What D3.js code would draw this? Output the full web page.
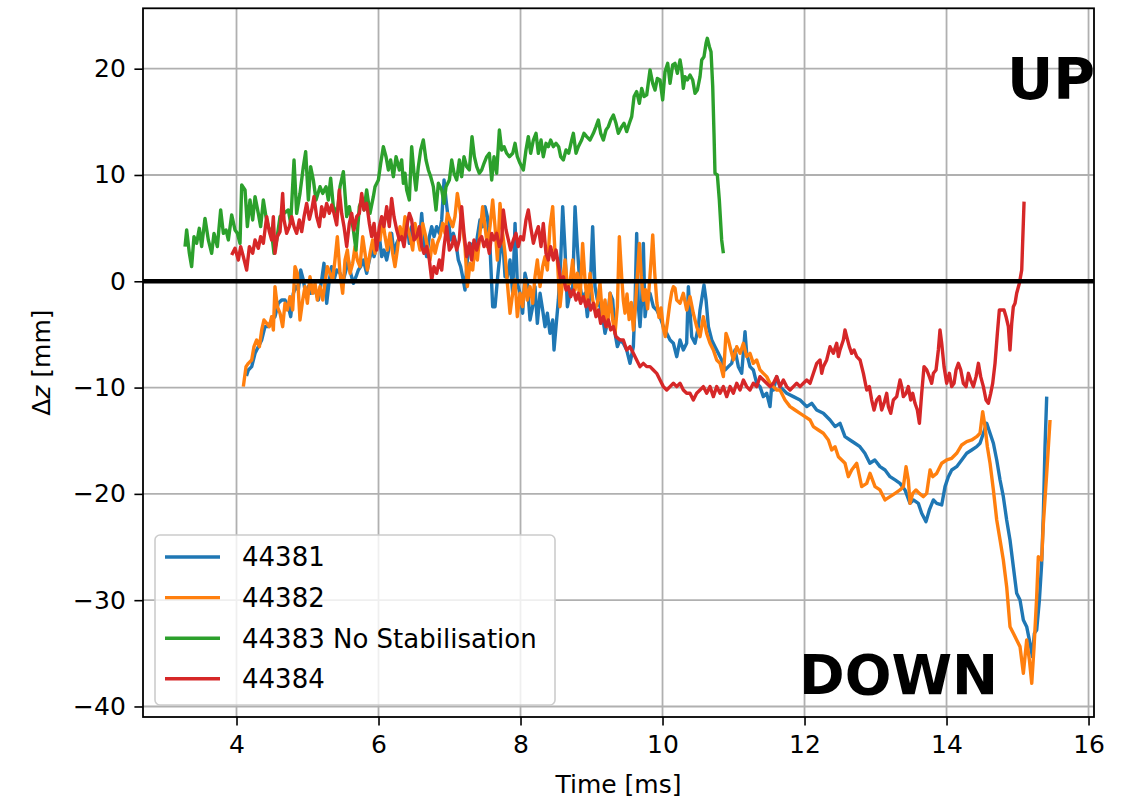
<!DOCTYPE html>
<html>
<head>
<meta charset="utf-8">
<script src="https://cdn.jsdelivr.net/npm/d3@7"></script>
<style>
  body { margin: 0; background: #ffffff; }
  svg { display: block; }
  text { font-family: "DejaVu Sans", sans-serif; fill: #000; }
</style>
</head>
<body>
<svg id="chart" width="1132" height="803"></svg>
<script>
// Vertical displacement of the plasma column, Δz [mm], against time [ms]
const shotLabels = ["44381", "44382", "44383 No Stabilisation", "44384"];
const shotColors = ["#1f77b4", "#ff7f0e", "#2ca02c", "#d62728"];
const xTickValues = [4, 6, 8, 10, 12, 14, 16];
const yTickValues = [20, 10, 0, -10, -20, -30, -40];

// [time ms, dz mm]
const shot44381 = [
  [4.14,-8.9],[4.167,-8.35],[4.214,-8.03],[4.261,-6.78],[4.307,-6.15],[4.355,-5.52],[4.401,-4.27],[4.448,-4.27],
  [4.495,-3.64],[4.542,-3.33],[4.589,-2.07],[4.636,-1.76],[4.683,-1.76],[4.730,-2.39],[4.763,-3.33],[4.800,-1.13],
  [4.838,-0.50],[4.871,-0.82],[4.904,1.06],[4.941,0.12],[4.979,-1.45],[5.012,-0.50],[5.044,-1.13],[5.082,-0.50],
  [5.120,-1.13],[5.153,-1.76],[5.199,0.12],[5.232,1.69],[5.270,-2.07],[5.307,0.12],[5.340,1.38],[5.373,0.12],
  [5.411,1.06],[5.458,0.75],[5.505,0.12],[5.542,1.06],[5.575,2.00],[5.608,0.75],[5.646,-0.19],[5.683,0.43],
  [5.716,1.06],[5.749,1.38],[5.787,2.00],[5.833,0.75],[5.871,2.00],[5.904,2.94],[5.937,2.32],[5.974,3.26],
  [6.012,4.20],[6.045,2.32],[6.077,2.94],[6.115,2.00],[6.152,3.26],[6.185,4.51],[6.218,2.63],[6.256,3.57],
  [6.303,4.20],[6.350,4.20],[6.397,5.77],[6.434,3.57],[6.467,5.14],[6.500,3.89],[6.538,4.83],[6.575,3.57],
  [6.608,6.39],[6.641,3.57],[6.678,2.32],[6.716,4.20],[6.749,5.14],[6.782,4.20],[6.819,5.14],[6.857,4.51],
  [6.890,5.77],[6.923,9.53],[6.951,7.65],[6.984,5.77],[7.016,3.89],[7.054,4.51],[7.091,3.57],[7.124,2.00],
  [7.157,1.38],[7.185,0.43],[7.218,-0.82],[7.251,2.00],[7.289,3.57],[7.326,3.26],[7.359,2.63],[7.392,4.20],
  [7.429,5.77],[7.467,5.14],[7.500,7.02],[7.533,6.08],[7.570,3.26],[7.608,-2.39],[7.641,-2.39],[7.674,0.12],
  [7.711,2.63],[7.749,3.89],[7.782,0.43],[7.815,0.43],[7.852,2.00],[7.890,-1.13],[7.923,5.45],[7.955,-0.19],
  [7.993,-1.13],[8.030,-3.01],[8.063,0.75],[8.096,-0.19],[8.134,-3.64],[8.171,-2.39],[8.204,-0.50],[8.237,-3.96],
  [8.275,-1.13],[8.312,-2.70],[8.345,-4.27],[8.378,-3.01],[8.415,-4.90],[8.453,-3.64],[8.472,-6.46],[8.500,-4.27],
  [8.533,-1.76],[8.566,2.00],[8.594,7.02],[8.627,2.94],[8.660,-2.39],[8.697,-1.13],[8.735,-0.50],[8.768,7.02],
  [8.800,3.26],[8.838,-0.50],[8.875,-1.76],[8.908,-1.13],[8.941,-3.33],[8.979,-1.13],[9.016,5.14],[9.049,-0.50],
  [9.082,-1.76],[9.120,-2.39],[9.157,-3.33],[9.190,-4.90],[9.223,-3.96],[9.261,-1.13],[9.298,-1.76],[9.331,-4.90],
  [9.364,-6.15],[9.401,-5.52],[9.448,-5.83],[9.495,-6.46],[9.542,-7.72],[9.589,-6.15],[9.613,-2.07],[9.636,4.51],
  [9.660,-2.39],[9.683,-4.27],[9.707,-1.76],[9.730,3.57],[9.754,-3.33],[9.777,-2.07],[9.824,-1.13],[9.871,-2.39],
  [9.918,-2.70],[9.965,-3.33],[10.012,-4.27],[10.059,-4.89],[10.106,-5.52],[10.153,-5.83],[10.200,-7.09],[10.247,-5.52],
  [10.293,-6.46],[10.340,-5.83],[10.364,-0.51],[10.411,-5.21],[10.458,-5.83],[10.505,-4.27],[10.528,-2.70],[10.584,-0.35],
  [10.613,-1.76],[10.646,-4.27],[10.693,-5.52],[10.739,-6.15],[10.786,-6.78],[10.833,-7.40],[10.880,-8.34],[10.927,-8.03],
  [10.974,-7.72],[11.021,-6.46],[11.068,-8.03],[11.115,-8.66],[11.162,-4.74],[11.185,-6.78],[11.232,-8.03],[11.279,-8.34],
  [11.326,-9.60],[11.373,-9.91],[11.420,-10.85],[11.467,-10.54],[11.514,-11.79],[11.537,-9.91],[11.561,-10.23],[11.608,-8.97],
  [11.655,-9.91],[11.749,-10.54],[11.843,-10.85],[11.937,-11.17],[12.031,-11.79],[12.101,-11.48],[12.171,-12.11],[12.265,-12.42],
  [12.359,-13.05],[12.430,-13.67],[12.500,-13.36],[12.570,-14.62],[12.640,-14.93],[12.710,-15.24],[12.780,-15.56],[12.850,-16.18],
  [12.920,-17.12],[12.990,-16.81],[13.063,-17.44],[13.134,-17.75],[13.204,-18.38],[13.275,-18.69],[13.345,-19.01],[13.415,-19.63],
  [13.486,-20.89],[13.533,-20.57],[13.603,-20.89],[13.650,-21.83],[13.711,-22.61],[13.758,-21.51],[13.815,-20.57],[13.862,-20.89],
  [13.932,-21.04],[13.979,-19.32],[14.026,-18.38],[14.073,-17.75],[14.143,-17.44],[14.214,-16.81],[14.284,-16.18],[14.355,-15.87],
  [14.425,-15.56],[14.472,-15.24],[14.519,-14.30],[14.566,-13.36],[14.613,-14.30],[14.660,-15.24],[14.707,-16.81],[14.754,-18.69],
  [14.800,-20.26],[14.847,-22.46],[14.894,-24.34],[14.941,-26.85],[14.988,-29.35],[15.035,-29.98],[15.082,-31.86],[15.129,-32.49],
  [15.176,-34.06],[15.209,-35.31],[15.237,-33.12],[15.270,-32.80],[15.308,-29.98],[15.340,-26.53],[15.364,-21.83],[15.387,-15.56],
  [15.411,-10.85]
];

const shot44382 = [
  [4.096,-9.91],[4.134,-8.03],[4.167,-7.72],[4.214,-7.40],[4.246,-6.15],[4.284,-5.52],[4.322,-6.15],[4.355,-4.58],
  [4.387,-3.64],[4.425,-3.96],[4.462,-4.27],[4.495,-3.33],[4.519,-4.58],[4.542,-0.50],[4.575,-2.39],[4.613,-3.01],
  [4.650,-4.27],[4.683,-2.07],[4.716,-2.70],[4.753,-1.45],[4.791,-2.70],[4.824,1.38],[4.857,0.75],[4.894,-3.64],
  [4.932,-1.76],[4.965,-0.50],[4.998,-2.07],[5.035,0.43],[5.073,-1.13],[5.106,-0.19],[5.138,-1.76],[5.176,-0.50],
  [5.214,-1.76],[5.246,-0.19],[5.279,1.38],[5.317,0.75],[5.354,0.12],[5.387,2.00],[5.420,4.20],[5.458,0.75],
  [5.495,-1.13],[5.528,2.00],[5.561,2.94],[5.599,0.75],[5.636,1.69],[5.669,3.26],[5.702,2.00],[5.739,1.38],
  [5.777,4.20],[5.810,2.63],[5.843,1.06],[5.880,2.63],[5.918,3.89],[5.951,2.63],[5.984,4.51],[6.021,3.89],
  [6.059,5.77],[6.092,4.20],[6.124,2.94],[6.162,4.51],[6.199,2.63],[6.232,1.38],[6.265,2.94],[6.303,5.14],
  [6.340,3.89],[6.373,6.08],[6.406,5.14],[6.444,4.20],[6.481,2.94],[6.514,5.45],[6.547,4.20],[6.584,2.94],
  [6.622,5.45],[6.655,4.51],[6.688,3.26],[6.725,2.00],[6.763,3.89],[6.796,2.63],[6.829,3.57],[6.866,4.20],
  [6.904,5.45],[6.937,4.51],[6.970,6.39],[7.007,5.77],[7.045,5.14],[7.077,6.08],[7.110,8.27],[7.148,6.71],
  [7.185,5.14],[7.218,3.26],[7.251,-0.50],[7.289,1.69],[7.326,1.06],[7.359,3.26],[7.392,2.00],[7.429,4.51],
  [7.467,7.02],[7.500,5.14],[7.533,3.26],[7.570,5.14],[7.608,7.65],[7.641,5.14],[7.674,2.00],[7.711,7.33],
  [7.749,4.51],[7.782,2.63],[7.815,-0.19],[7.852,-3.01],[7.890,-1.13],[7.923,0.12],[7.955,-3.33],[7.993,-1.13],
  [8.030,-2.39],[8.063,0.12],[8.096,-1.76],[8.134,-0.50],[8.171,-2.07],[8.204,0.43],[8.237,2.00],[8.275,-0.50],
  [8.312,1.38],[8.345,2.32],[8.378,1.06],[8.415,5.14],[8.453,7.02],[8.486,2.63],[8.519,2.00],[8.556,-2.39],
  [8.594,0.12],[8.627,2.00],[8.660,-0.50],[8.697,-0.19],[8.735,2.00],[8.768,-0.82],[8.800,0.75],[8.838,-1.76],
  [8.875,3.57],[8.908,0.12],[8.941,-2.07],[8.979,0.75],[9.016,-1.76],[9.049,-2.70],[9.082,-2.07],[9.120,-0.19],
  [9.157,-3.64],[9.190,-1.76],[9.223,-4.27],[9.261,-1.13],[9.298,-3.64],[9.331,-4.90],[9.364,-2.39],[9.392,4.20],
  [9.425,0.40],[9.448,-1.80],[9.472,-3.00],[9.500,-1.20],[9.530,-3.60],[9.560,-2.00],[9.590,-4.60],[9.620,-2.20],
  [9.650,1.00],[9.674,3.57],[9.700,0.50],[9.730,-1.80],[9.760,-0.80],[9.790,-2.60],[9.820,0.20],[9.845,2.50],
  [9.862,4.36],[9.890,0.80],[9.920,-2.00],[9.950,-3.40],[9.980,-2.50],[10.010,-4.40],[10.040,-5.20],[10.070,-3.80],
  [10.100,-2.20],[10.130,-1.00],[10.153,-0.51],[10.176,-0.66],[10.200,-1.76],[10.247,-2.07],[10.293,-1.13],[10.340,-2.70],
  [10.387,-1.45],[10.434,-3.01],[10.481,-4.27],[10.528,-5.21],[10.575,-3.33],[10.622,-4.90],[10.669,-5.83],[10.716,-6.46],
  [10.763,-7.40],[10.810,-7.72],[10.857,-8.97],[10.894,-4.90],[10.927,-5.52],[10.974,-6.78],[10.998,-7.40],[11.045,-6.15],
  [11.092,-6.78],[11.139,-5.83],[11.185,-7.09],[11.232,-6.78],[11.279,-7.72],[11.326,-7.40],[11.373,-8.34],[11.420,-8.66],
  [11.467,-8.97],[11.514,-9.60],[11.561,-9.91],[11.608,-10.23],[11.655,-10.23],[11.725,-11.17],[11.796,-11.79],[11.866,-12.11],
  [11.937,-12.42],[12.007,-12.73],[12.078,-13.05],[12.124,-13.67],[12.195,-13.99],[12.265,-14.30],[12.336,-14.93],[12.383,-15.87],
  [12.430,-15.56],[12.477,-16.50],[12.524,-16.81],[12.570,-17.12],[12.617,-18.38],[12.664,-17.75],[12.735,-17.12],[12.805,-19.32],
  [12.876,-19.01],[12.923,-18.07],[12.993,-19.32],[13.063,-19.63],[13.134,-20.57],[13.204,-20.26],[13.275,-19.95],[13.345,-19.63],
  [13.392,-19.32],[13.430,-17.44],[13.462,-18.69],[13.486,-20.89],[13.524,-19.95],[13.570,-19.63],[13.617,-19.95],[13.674,-20.26],
  [13.721,-19.95],[13.768,-17.75],[13.805,-18.38],[13.862,-18.07],[13.932,-17.12],[14.002,-16.81],[14.073,-16.65],[14.143,-16.18],
  [14.214,-15.40],[14.284,-15.09],[14.355,-14.93],[14.425,-14.62],[14.472,-14.30],[14.509,-12.26],[14.542,-13.67],[14.575,-15.56],
  [14.613,-17.12],[14.660,-19.63],[14.707,-22.46],[14.754,-24.34],[14.800,-26.22],[14.847,-28.73],[14.894,-32.49],[14.941,-33.12],
  [14.988,-33.74],[15.035,-34.37],[15.082,-36.88],[15.129,-33.74],[15.167,-35.62],[15.200,-37.82],[15.233,-34.37],[15.270,-29.67],
  [15.293,-25.90],[15.340,-26.22],[15.364,-22.77],[15.411,-18.07],[15.458,-13.05]
];

const shot44383 = [
  [3.275,3.26],[3.298,4.83],[3.336,2.63],[3.368,1.38],[3.401,4.20],[3.439,3.57],[3.476,4.98],[3.509,3.26],
  [3.556,5.92],[3.603,3.89],[3.650,2.63],[3.683,4.51],[3.730,3.26],[3.777,6.71],[3.815,4.51],[3.852,4.83],
  [3.885,3.89],[3.932,6.24],[3.979,4.83],[4.012,4.51],[4.049,3.57],[4.073,9.06],[4.120,8.59],[4.153,5.14],
  [4.190,7.65],[4.228,5.77],[4.261,7.96],[4.307,6.39],[4.340,5.14],[4.378,7.65],[4.415,6.08],[4.448,5.14],
  [4.495,4.51],[4.528,2.63],[4.566,3.89],[4.613,6.08],[4.669,6.39],[4.730,6.71],[4.763,5.45],[4.810,11.41],
  [4.847,6.39],[4.894,8.27],[4.941,10.78],[4.974,12.19],[5.012,7.65],[5.044,10.78],[5.082,9.53],[5.120,7.65],
  [5.176,8.90],[5.214,8.27],[5.261,8.90],[5.293,7.65],[5.326,9.69],[5.364,7.02],[5.420,6.39],[5.458,8.90],
  [5.505,10.31],[5.552,6.08],[5.589,7.02],[5.646,4.83],[5.683,2.94],[5.730,7.02],[5.763,7.65],[5.796,6.71],
  [5.833,8.59],[5.880,6.39],[5.927,7.96],[5.951,8.90],[5.998,9.53],[6.031,11.10],[6.068,12.66],[6.106,11.72],
  [6.139,10.47],[6.171,11.41],[6.209,9.84],[6.247,11.72],[6.294,10.47],[6.326,11.41],[6.350,9.22],[6.373,10.16],
  [6.397,8.59],[6.434,7.65],[6.467,12.66],[6.500,10.16],[6.528,8.59],[6.561,10.78],[6.594,12.35],[6.631,13.29],
  [6.669,11.41],[6.702,10.47],[6.735,9.84],[6.772,8.90],[6.810,6.71],[6.843,9.22],[6.890,8.59],[6.923,7.33],
  [6.951,8.90],[6.998,9.53],[7.031,11.41],[7.064,10.16],[7.101,9.53],[7.139,11.41],[7.171,9.84],[7.204,11.72],
  [7.242,10.78],[7.279,10.47],[7.317,13.61],[7.350,11.72],[7.383,10.78],[7.420,10.16],[7.453,10.47],[7.486,11.10],
  [7.524,11.72],[7.561,12.04],[7.594,9.53],[7.627,11.72],[7.664,10.16],[7.702,14.23],[7.735,12.35],[7.768,12.66],
  [7.805,12.04],[7.843,11.72],[7.890,12.04],[7.923,12.98],[7.955,11.72],[7.993,11.10],[8.040,10.47],[8.077,12.35],
  [8.110,13.61],[8.143,12.04],[8.181,13.29],[8.218,13.92],[8.251,12.04],[8.289,13.29],[8.321,11.72],[8.359,12.98],
  [8.392,12.66],[8.425,13.29],[8.462,12.66],[8.500,12.98],[8.537,12.66],[8.566,11.72],[8.603,11.41],[8.641,12.35],
  [8.678,12.04],[8.721,13.29],[8.744,13.92],[8.782,12.04],[8.814,12.66],[8.861,13.29],[8.894,13.92],[8.932,13.61],
  [8.979,13.29],[9.026,13.92],[9.063,14.55],[9.096,15.17],[9.129,13.92],[9.167,13.29],[9.204,14.23],[9.237,14.55],
  [9.270,15.17],[9.308,15.64],[9.345,14.86],[9.378,13.92],[9.425,14.55],[9.458,14.86],[9.495,14.08],[9.533,14.86],
  [9.566,15.49],[9.599,17.37],[9.636,17.84],[9.674,16.74],[9.707,18.15],[9.740,17.37],[9.777,17.53],[9.824,19.88],
  [9.862,18.62],[9.894,17.99],[9.927,19.09],[9.965,18.94],[10.002,17.06],[10.035,19.72],[10.073,20.50],[10.106,18.62],
  [10.143,20.35],[10.176,20.50],[10.209,19.56],[10.247,20.82],[10.270,19.88],[10.293,18.15],[10.317,19.25],[10.350,18.94],
  [10.387,19.41],[10.425,18.94],[10.458,17.68],[10.491,17.99],[10.528,19.25],[10.552,20.82],[10.584,21.13],[10.613,22.39],
  [10.631,22.86],[10.660,22.07],[10.683,21.60],[10.707,18.31],[10.725,13.92],[10.739,10.16],[10.772,10.00],[10.800,7.65],
  [10.833,3.89],[10.857,2.63]
];

const shot44384 = [
  [3.932,2.47],[3.979,3.10],[4.026,2.00],[4.059,3.26],[4.096,2.32],[4.143,1.06],[4.181,3.26],[4.228,2.63],
  [4.261,3.89],[4.307,3.10],[4.340,4.20],[4.378,3.57],[4.425,6.08],[4.462,4.67],[4.495,3.89],[4.519,6.08],
  [4.542,2.63],[4.575,4.20],[4.613,4.67],[4.650,8.27],[4.669,5.77],[4.706,4.51],[4.744,5.14],[4.777,6.08],
  [4.810,5.14],[4.847,4.51],[4.885,5.77],[4.918,4.67],[4.951,6.08],[4.988,7.33],[5.026,5.83],[5.059,6.71],
  [5.091,7.96],[5.129,6.08],[5.167,5.14],[5.199,7.02],[5.232,6.08],[5.270,7.33],[5.307,6.39],[5.340,7.18],
  [5.373,6.39],[5.411,5.30],[5.448,8.59],[5.481,6.39],[5.514,5.14],[5.552,3.26],[5.589,5.45],[5.622,6.39],
  [5.655,4.83],[5.692,6.08],[5.730,6.39],[5.763,8.27],[5.796,6.71],[5.833,7.33],[5.871,5.45],[5.904,4.20],
  [5.937,5.45],[5.974,2.94],[6.012,5.14],[6.045,6.08],[6.077,5.14],[6.115,7.02],[6.152,5.14],[6.185,7.80],
  [6.218,6.08],[6.256,4.83],[6.293,3.89],[6.326,4.20],[6.359,3.26],[6.397,5.14],[6.434,6.39],[6.467,5.77],
  [6.500,3.89],[6.538,4.20],[6.575,5.14],[6.608,3.26],[6.641,2.63],[6.678,3.26],[6.716,2.00],[6.749,0.12],
  [6.781,1.38],[6.819,0.75],[6.857,2.00],[6.890,1.06],[6.923,3.26],[6.960,5.14],[6.998,2.94],[7.031,3.26],
  [7.063,4.20],[7.101,2.94],[7.138,3.89],[7.171,7.02],[7.204,4.51],[7.242,2.32],[7.279,3.57],[7.312,2.00],
  [7.345,3.89],[7.383,2.94],[7.420,3.89],[7.453,4.20],[7.486,3.26],[7.524,3.89],[7.561,2.63],[7.594,4.51],
  [7.627,3.89],[7.664,4.51],[7.702,3.26],[7.735,3.89],[7.758,6.71],[7.796,4.83],[7.829,3.89],[7.861,2.94],
  [7.899,3.89],[7.936,4.51],[7.969,3.26],[8.002,4.20],[8.040,3.89],[8.077,5.77],[8.110,6.71],[8.143,5.14],
  [8.181,3.57],[8.218,4.51],[8.251,5.14],[8.289,3.26],[8.321,5.45],[8.359,2.63],[8.392,2.00],[8.425,3.26],
  [8.462,2.00],[8.500,2.94],[8.537,1.38],[8.566,0.12],[8.603,0.43],[8.641,-0.82],[8.674,-0.51],[8.707,-1.45],
  [8.744,-0.82],[8.782,-1.76],[8.814,-1.13],[8.847,-2.07],[8.885,-1.45],[8.922,-2.39],[8.955,-1.76],[8.988,-2.70],
  [9.026,-2.07],[9.063,-3.33],[9.096,-2.70],[9.129,-3.96],[9.167,-3.33],[9.204,-4.27],[9.237,-3.64],[9.270,-4.58],
  [9.308,-4.27],[9.345,-5.21],[9.401,-5.52],[9.448,-5.52],[9.495,-6.46],[9.542,-6.15],[9.589,-6.78],[9.636,-7.40],
  [9.683,-8.03],[9.730,-7.72],[9.777,-8.03],[9.824,-8.03],[9.871,-8.34],[9.918,-8.66],[9.965,-9.29],[10.012,-9.91],
  [10.059,-10.23],[10.106,-9.91],[10.153,-9.60],[10.200,-9.91],[10.247,-9.60],[10.293,-10.23],[10.340,-10.54],[10.387,-10.54],
  [10.434,-11.17],[10.481,-10.54],[10.528,-10.23],[10.575,-9.91],[10.622,-10.54],[10.669,-9.91],[10.716,-10.85],[10.763,-9.91],
  [10.810,-10.54],[10.857,-9.91],[10.904,-10.85],[10.951,-9.91],[10.998,-10.54],[11.045,-9.60],[11.092,-10.23],[11.139,-9.29],
  [11.185,-9.91],[11.232,-10.23],[11.279,-9.60],[11.326,-9.91],[11.373,-8.97],[11.420,-9.29],[11.467,-9.60],[11.514,-9.91],
  [11.561,-9.60],[11.608,-8.97],[11.655,-9.91],[11.702,-9.29],[11.749,-9.91],[11.796,-10.23],[11.843,-9.91],[11.890,-9.60],
  [11.937,-9.91],[11.984,-9.60],[12.031,-9.29],[12.078,-9.60],[12.125,-8.66],[12.172,-7.72],[12.218,-7.40],[12.242,-8.66],
  [12.265,-8.03],[12.312,-7.40],[12.359,-6.15],[12.406,-6.78],[12.453,-5.83],[12.477,-7.09],[12.500,-6.46],[12.547,-5.52],
  [12.570,-4.58],[12.594,-5.21],[12.631,-6.15],[12.664,-6.78],[12.697,-6.46],[12.735,-7.09],[12.782,-7.40],[12.829,-8.66],
  [12.876,-10.23],[12.913,-9.91],[12.946,-11.17],[12.979,-12.11],[13.016,-11.17],[13.054,-10.85],[13.087,-12.11],[13.120,-11.48],
  [13.157,-10.54],[13.181,-11.79],[13.214,-12.42],[13.251,-11.17],[13.298,-10.85],[13.345,-9.29],[13.369,-9.91],[13.392,-10.85],
  [13.430,-10.54],[13.462,-9.91],[13.495,-11.17],[13.524,-10.54],[13.556,-11.48],[13.589,-12.11],[13.618,-13.36],[13.650,-10.54],
  [13.683,-8.03],[13.721,-8.34],[13.758,-8.97],[13.791,-9.60],[13.815,-8.66],[13.852,-8.34],[13.885,-6.46],[13.908,-4.58],
  [13.932,-5.83],[13.965,-8.03],[14.002,-9.60],[14.040,-8.66],[14.073,-9.91],[14.106,-9.60],[14.134,-8.34],[14.167,-7.72],
  [14.200,-8.34],[14.237,-9.60],[14.275,-9.91],[14.308,-8.66],[14.340,-9.29],[14.378,-9.91],[14.416,-8.97],[14.449,-7.72],
  [14.481,-8.97],[14.519,-9.91],[14.556,-11.17],[14.589,-11.48],[14.622,-10.54],[14.650,-9.60],[14.683,-7.72],[14.716,-4.89],
  [14.744,-2.70],[14.777,-2.70],[14.810,-2.70],[14.838,-3.33],[14.871,-4.27],[14.894,-6.46],[14.918,-3.96],[14.941,-2.39],
  [14.965,-2.07],[14.988,-1.13],[15.026,-0.19],[15.059,1.06],[15.092,7.49]
];

const shotSeries = [shot44381, shot44382, shot44383, shot44384];

// ---- layout ----
const svg = d3.select("#chart");
const plot = { left: 143, right: 1094, top: 8.3, bottom: 717 };
const tickFont = 25;
const legendFont = 26;

const x = d3.scaleLinear().domain([2.683, 16.077]).range([plot.left, plot.right]);
const y = d3.scaleLinear().domain([-40.99, 25.68]).range([plot.bottom, plot.top]);

svg.append("rect").attr("width", 1132).attr("height", 803).attr("fill", "#ffffff");

svg.append("defs").append("clipPath").attr("id", "plot-clip")
  .append("rect")
  .attr("x", plot.left).attr("y", plot.top)
  .attr("width", plot.right - plot.left).attr("height", plot.bottom - plot.top);

// grid
const grid = svg.append("g").attr("stroke", "#b0b0b0").attr("stroke-width", 1.8);
grid.selectAll("line.vx").data(xTickValues).join("line")
  .attr("x1", d => x(d)).attr("x2", d => x(d))
  .attr("y1", plot.top).attr("y2", plot.bottom);
grid.selectAll("line.hy").data(yTickValues).join("line")
  .attr("x1", plot.left).attr("x2", plot.right)
  .attr("y1", d => y(d)).attr("y2", d => y(d));

// series
const line = d3.line().x(d => x(d[0])).y(d => y(d[1]));
const seriesGroup = svg.append("g").attr("clip-path", "url(#plot-clip)");
seriesGroup.selectAll("path.shot").data(shotSeries).join("path")
  .attr("class", "shot")
  .attr("d", line)
  .attr("fill", "none")
  .attr("stroke", (d, i) => shotColors[i])
  .attr("stroke-width", 3.4)
  .attr("stroke-linejoin", "round")
  .attr("stroke-linecap", "butt");

// zero reference line
seriesGroup.append("line")
  .attr("x1", plot.left).attr("x2", plot.right)
  .attr("y1", y(0)).attr("y2", y(0))
  .attr("stroke", "#000").attr("stroke-width", 4.6);

// axes
const xAxis = d3.axisBottom(x).tickValues(xTickValues).tickSize(8.6).tickPadding(8.6)
  .tickFormat(d3.format("d"));
const yAxis = d3.axisLeft(y).tickValues(yTickValues).tickSize(8.6).tickPadding(8.6)
  .tickFormat(d => d < 0 ? "\u2212" + Math.abs(d) : String(d));

const gx = svg.append("g").attr("transform", `translate(0,${plot.bottom})`).call(xAxis);
const gy = svg.append("g").attr("transform", `translate(${plot.left},0)`).call(yAxis);
[gx, gy].forEach(g => {
  g.select(".domain").remove();
  g.selectAll(".tick line").attr("stroke", "#000").attr("stroke-width", 1.6);
  g.selectAll(".tick text").attr("fill", "#000")
    .style("font-family", "'DejaVu Sans', sans-serif").style("font-size", tickFont + "px");
});
gx.selectAll(".tick text").attr("dy", "0.76em");

// frame
svg.append("rect")
  .attr("x", plot.left).attr("y", plot.top)
  .attr("width", plot.right - plot.left).attr("height", plot.bottom - plot.top)
  .attr("fill", "none").attr("stroke", "#000").attr("stroke-width", 1.8);

// axis labels
svg.append("text")
  .attr("x", (plot.left + plot.right) / 2).attr("y", 793)
  .attr("text-anchor", "middle").style("font-size", tickFont + "px")
  .text("Time [ms]");

const yLabel = svg.append("text")
  .attr("transform", `translate(50,${(plot.top + plot.bottom) / 2}) rotate(-90)`)
  .attr("text-anchor", "middle").style("font-size", tickFont + "px");
yLabel.append("tspan").text("\u0394");
yLabel.append("tspan").style("font-style", "italic").text("z");
yLabel.append("tspan").text(" [mm]");

// legend
const legend = svg.append("g");
legend.append("rect")
  .attr("x", 155).attr("y", 535).attr("width", 400).attr("height", 170)
  .attr("rx", 5).attr("ry", 5)
  .attr("fill", "#ffffff").attr("fill-opacity", 0.8)
  .attr("stroke", "#cccccc").attr("stroke-width", 1.6);
const rows = legend.selectAll("g.row").data(shotLabels).join("g")
  .attr("class", "row")
  .attr("transform", (d, i) => `translate(0,${557 + i * 40.6})`);
rows.append("line")
  .attr("x1", 165).attr("x2", 220).attr("y1", 0).attr("y2", 0)
  .attr("stroke", (d, i) => shotColors[i]).attr("stroke-width", 3.4);
rows.append("text")
  .attr("x", 242).attr("y", 0).attr("dy", "0.36em")
  .style("font-size", legendFont + "px")
  .text(d => d);

// direction annotations
svg.append("text")
  .attr("x", 1007).attr("y", 99)
  .style("font-size", "57px").style("font-weight", "bold")
  .text("UP");
svg.append("text")
  .attr("x", 799).attr("y", 694)
  .style("font-size", "55px").style("font-weight", "bold")
  .text("DOWN");
</script>
</body>
</html>
